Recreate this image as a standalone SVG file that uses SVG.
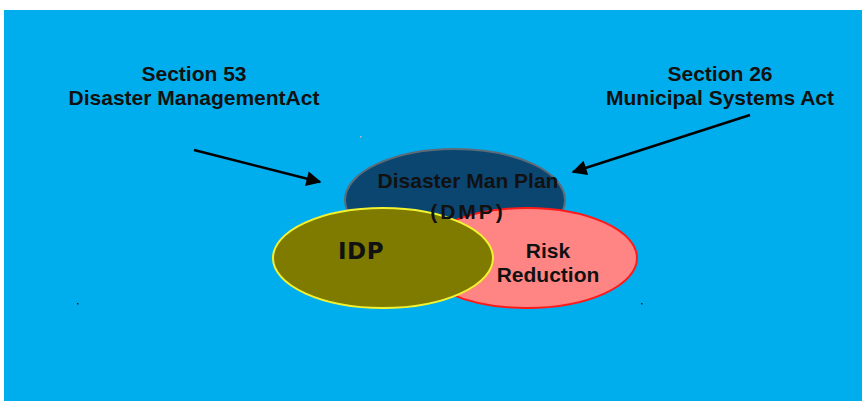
<svg xmlns="http://www.w3.org/2000/svg" width="862" height="405" viewBox="0 0 862 405">
<defs>
<style>
.t{font-family:"Liberation Sans",Arial,sans-serif;font-weight:bold;fill:#111;text-anchor:middle}
.c{stroke:#000;stroke-width:2.5;fill:none}
</style>
<marker id="ah" viewBox="0 0 10 10" refX="9" refY="5" markerWidth="7" markerHeight="6" markerUnits="strokeWidth" orient="auto"><path d="M0,0L10,5L0,10z" fill="#000"/></marker>
</defs>
<rect x="0" y="0" width="862" height="405" fill="#fff"/>
<rect x="4" y="10" width="858" height="391" fill="#00AEEE"/>
<g id="dmp"><ellipse cx="455" cy="200" rx="110" ry="51" fill="#0A4670" stroke="#5B6B78" stroke-width="2"/></g>
<g id="risk"><ellipse cx="527" cy="258" rx="110" ry="50" fill="#FF8585" stroke="#FF1A1A" stroke-width="2"/><text class="t" x="548" y="258" font-size="21">Risk</text><text class="t" x="548" y="282" font-size="21">Reduction</text></g>
<g id="idp"><ellipse cx="383" cy="258" rx="110" ry="50" fill="#7F7A00" stroke="#F2F230" stroke-width="2"/><text class="t" x="361" y="259" font-size="23" letter-spacing="0.5" style="font-family:'DejaVu Sans',sans-serif">IDP</text></g>
<g id="dmp-label"><text class="t" x="468" y="188" font-size="21">Disaster Man Plan</text><text class="t" x="468" y="219" font-size="21" letter-spacing="3">(DMP)</text></g>
<g id="sec53"><text class="t" x="194" y="81" font-size="21">Section 53</text><text class="t" x="194" y="105" font-size="21">Disaster ManagementAct</text></g>
<g id="sec26"><text class="t" x="720" y="81" font-size="21">Section 26</text><text class="t" x="720" y="105" font-size="21">Municipal Systems Act</text></g>
<g id="connectors">
<line class="c" x1="194" y1="150" x2="320" y2="182" marker-end="url(#ah)"/>
<line class="c" x1="750" y1="115" x2="573" y2="172" marker-end="url(#ah)"/>
</g>
<rect x="77" y="303" width="1.5" height="1.5" fill="#222"/>
<rect x="641" y="303" width="1.5" height="1.5" fill="#222"/>
<rect x="360" y="136" width="1.5" height="1.5" fill="#bbb"/>
</svg>
